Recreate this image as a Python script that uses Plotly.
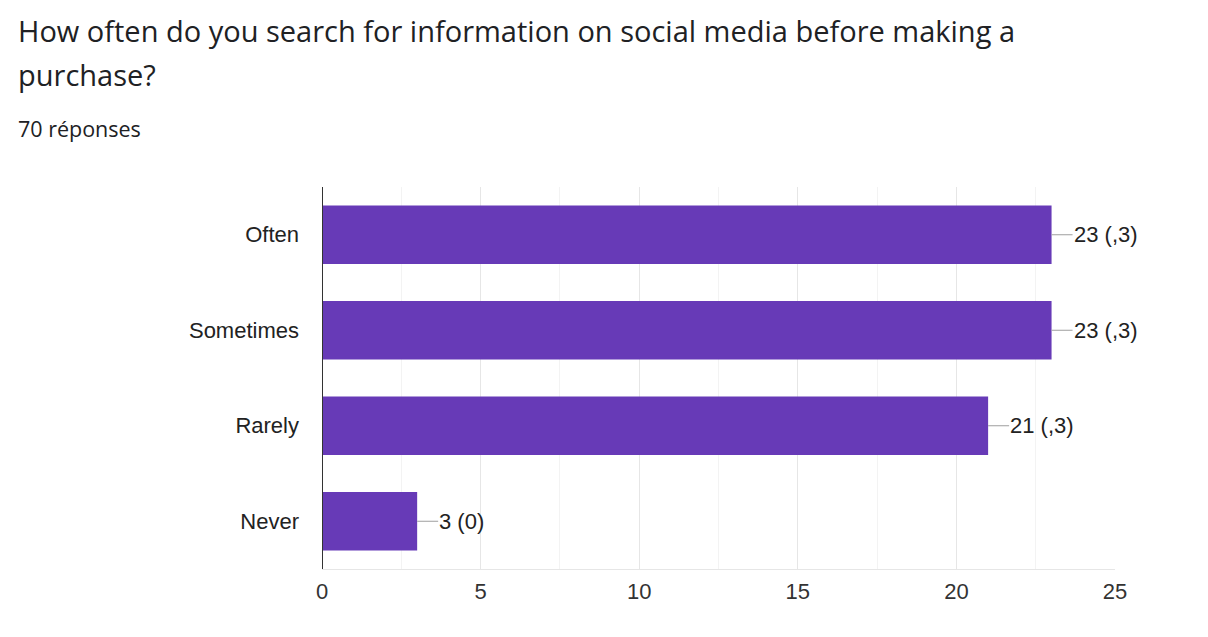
import plotly.graph_objects as go

categories = ["Often", "Sometimes", "Rarely", "Never"]
counts = [23, 23, 21, 3]
shares = [",3", ",3", ",3", "0"]
x_ticks = [0, 5, 10, 15, 20, 25]

title_line1 = "How often do you search for information on social media before making a"
title_line2 = "purchase?"
subtitle = "70 réponses"

# page has an 8px body margin, so figure is 8px smaller than the window
OFF = 8
W, H = 1208 - OFF, 637 - OFF
L, T = 322 - OFF, 187 - OFF
pw, ph = 793, 382
R, B = W - L - pw, H - T - ph

def px_x(x):
    return (x - OFF - L) / pw

def px_y(y):
    return (H - B - (y - OFF)) / ph

BAR = "#673ab7"
TXT = "#222222"
FONT = "Liberation Sans, Arial, sans-serif"
TFONT = "Open Sans, sans-serif"

fig = go.Figure()
fig.add_trace(go.Bar(
    x=counts, y=categories, orientation="h",
    marker=dict(color=BAR, line=dict(width=0)),
    hoverinfo="skip",
))

annotations = []
for c, v, s in zip(categories, counts, shares):
    annotations.append(dict(
        x=v, y=c, xref="x", yref="y",
        text=f"{v} ({s})", showarrow=True, arrowhead=0, arrowwidth=1,
        arrowcolor="#9e9e9e", ax=21, ay=0, xanchor="left", yanchor="middle",
        font=dict(family=FONT, size=22, color=TXT), borderpad=0,
    ))

annotations += [
    dict(x=px_x(16), y=px_y(30), xref="paper", yref="paper", text=title_line1,
         showarrow=False, xanchor="left", yanchor="middle",
         font=dict(family=TFONT, size=29, color="#202124")),
    dict(x=px_x(16), y=px_y(74), xref="paper", yref="paper", text=title_line2,
         showarrow=False, xanchor="left", yanchor="middle",
         font=dict(family=TFONT, size=29, color="#202124")),
    dict(x=px_x(16), y=px_y(128), xref="paper", yref="paper", text=subtitle,
         showarrow=False, xanchor="left", yanchor="middle",
         font=dict(family=TFONT, size=21.5, color="#202124")),
]

fig.update_layout(
    width=W, height=H,
    margin=dict(l=L, r=R, t=T, b=B, pad=0),
    paper_bgcolor="white", plot_bgcolor="white",
    showlegend=False, bargap=0.39,
    annotations=annotations,
    xaxis=dict(
        range=[0, 25], tickvals=x_ticks, showgrid=True, gridcolor="#e6e6e6",
        gridwidth=1, zeroline=False, showline=True, linecolor="#e6e6e6",
        linewidth=1, mirror=False, ticks="", ticklabelstandoff=3,
        tickfont=dict(family=FONT, size=22, color="#333333"),
        minor=dict(dtick=2.5, tick0=0, showgrid=True, gridcolor="#f3f3f3", gridwidth=1),
        fixedrange=True,
    ),
    yaxis=dict(
        categoryorder="array", categoryarray=categories, autorange="reversed",
        showgrid=False, zeroline=False, showline=False, ticks="",
        ticklabelstandoff=22,
        tickfont=dict(family=FONT, size=22, color=TXT), fixedrange=True,
    ),
    shapes=[dict(type="line", xref="x", yref="paper", x0=0, x1=0, y0=0, y1=1,
                 line=dict(color="#333333", width=2), layer="above")],
)

fig.write_html("out.html")
